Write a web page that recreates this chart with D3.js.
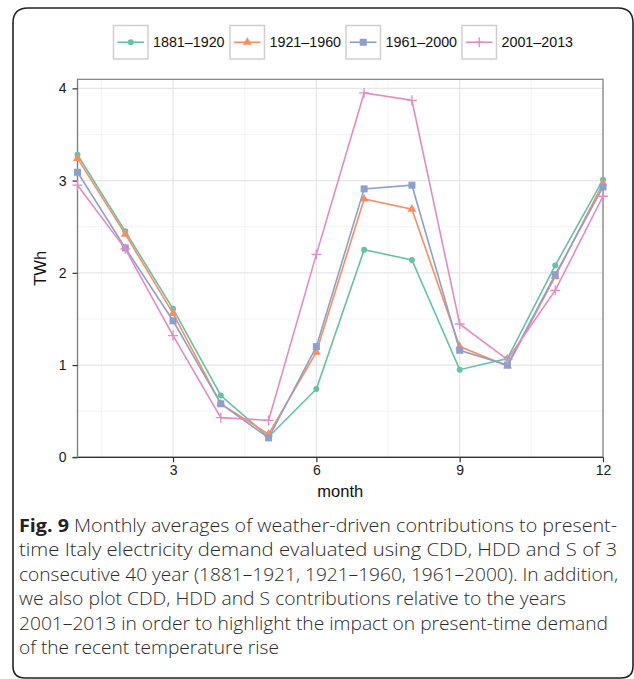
<!DOCTYPE html>
<html><head><meta charset="utf-8">
<script src="https://cdn.jsdelivr.net/npm/d3@7"></script>
<style>body{margin:0;background:#fff;} svg{display:block;}</style>
</head><body>
<svg id="c" width="634" height="679"></svg>
<script>
const months = [1,2,3,4,5,6,7,8,9,10,11,12];
const seriesNames = ["1881\u20131920","1921\u20131960","1961\u20132000","2001\u20132013"];
const s1881 = [3.28,2.45,1.61,0.67,0.22,0.74,2.25,2.14,0.95,1.07,2.08,3.01];
const s1921 = [3.24,2.42,1.56,0.58,0.25,1.14,2.80,2.69,1.20,0.99,1.96,2.97];
const s1961 = [3.09,2.27,1.48,0.58,0.21,1.20,2.91,2.95,1.16,1.00,1.98,2.93];
const s2001 = [2.95,2.26,1.32,0.43,0.40,2.20,3.95,3.87,1.445,1.06,1.81,2.83];
const xTicks = [3,6,9,12];
const yTicks = [0,1,2,3,4];
const colors = ["#66C2A5","#FC8D62","#8DA0CB","#E78AC3"];
const shapes = ["circle","triangle","square","plus"];
const captionLines = [
 "Monthly averages of weather-driven contributions to present-",
 "time Italy electricity demand evaluated using CDD, HDD and S of 3",
 "consecutive 40 year (1881\u20131921, 1921\u20131960, 1961\u20132000). In addition,",
 "we also plot CDD, HDD and S contributions relative to the years",
 "2001\u20132013 in order to highlight the impact on present-time demand",
 "of the recent temperature rise"
];
const allSeries = [s1881,s1921,s1961,s2001];

const svg = d3.select("#c");
// outer frame
svg.append("path")
  .attr("d","M13,666 L13,23 Q13,8 28,8 L618,8 Q633,8 633,23 L633,666 M13,666 Q13,678 25,678 L621,678 Q633,678 633,666")
  .attr("fill","none").attr("stroke","#222").attr("stroke-width",1.6);

const L=77.5, R=603, T=79.3, B=457.3;
const x = d3.scaleLinear().domain([1,12]).range([L,R]);
const y = d3.scaleLinear().domain([0,4.098]).range([B,T]);

const g = svg.append("g");
// minor grid
const xMinor=[1.5,4.5,7.5,10.5], yMinor=[0.5,1.5,2.5,3.5];
g.selectAll(".xm").data(xMinor).join("line").attr("x1",d=>x(d)).attr("x2",d=>x(d)).attr("y1",T).attr("y2",B).attr("stroke","#f4f4f4").attr("stroke-width",1);
g.selectAll(".ym").data(yMinor).join("line").attr("y1",d=>y(d)).attr("y2",d=>y(d)).attr("x1",L).attr("x2",R).attr("stroke","#f4f4f4").attr("stroke-width",1);
g.selectAll(".xM").data(xTicks).join("line").attr("x1",d=>x(d)).attr("x2",d=>x(d)).attr("y1",T).attr("y2",B).attr("stroke","#e6e6e6").attr("stroke-width",1.2);
g.selectAll(".yM").data(yTicks).join("line").attr("y1",d=>y(d)).attr("y2",d=>y(d)).attr("x1",L).attr("x2",R).attr("stroke","#e6e6e6").attr("stroke-width",1.2);
// panel border
g.append("rect").attr("x",L).attr("y",T).attr("width",R-L).attr("height",B-T).attr("fill","none").attr("stroke","#7f7f7f").attr("stroke-width",1.2);

// axes
const xa = svg.append("g").attr("transform",`translate(0,${B})`)
  .call(d3.axisBottom(x).tickValues(xTicks).tickFormat(d3.format("d")).tickSize(5).tickPadding(3));
const ya = svg.append("g").attr("transform",`translate(${L},0)`)
  .call(d3.axisLeft(y).tickValues(yTicks).tickFormat(d3.format("d")).tickSize(5).tickPadding(6));
[xa,ya].forEach(a=>{
  a.select(".domain").attr("stroke","#333").attr("stroke-width",1.2);
  a.selectAll(".tick line").attr("stroke","#333").attr("stroke-width",1.2);
  a.selectAll(".tick text").attr("font-family","Liberation Sans, Arial, sans-serif").attr("font-size",14).attr("fill","#1a1a1a");
});
ya.select(".domain").attr("d",`M-5,${B}H0V${T}`).attr("stroke","#7f7f7f");
xa.select(".domain").attr("d",`M${L},0H${R}`);

svg.append("text").attr("x",(L+R)/2).attr("y",497).attr("text-anchor","middle")
  .attr("font-family","Liberation Sans, Arial, sans-serif").attr("font-size",16.5).attr("fill","#111").text("month");
svg.append("text").attr("transform",`translate(46,${(T+B)/2}) rotate(-90)`).attr("text-anchor","middle")
  .attr("font-family","Liberation Sans, Arial, sans-serif").attr("font-size",16.5).attr("fill","#111").text("TWh");

function marker(sel, shape, color){
  if(shape==="circle") sel.append("circle").attr("r",3).attr("fill",color);
  else if(shape==="triangle") sel.append("path").attr("d",d3.symbol(d3.symbolTriangle,34)()).attr("fill",color);
  else if(shape==="square") sel.append("rect").attr("x",-3.5).attr("y",-3.5).attr("width",7).attr("height",7).attr("fill",color);
  else sel.append("path").attr("d","M-5,0H5M0,-5V5").attr("stroke",color).attr("stroke-width",1.3);
}

const line = d3.line().x((d,i)=>x(months[i])).y(d=>y(d));
allSeries.forEach((s,k)=>{
  svg.append("path").attr("d",line(s)).attr("fill","none").attr("stroke",colors[k]).attr("stroke-width",1.6);
  s.forEach((v,i)=>{
    const m = svg.append("g").attr("transform",`translate(${x(months[i])},${y(v)})`);
    marker(m,shapes[k],colors[k]);
  });
});

// legend
const legX=[113.5,230,346,462];
seriesNames.forEach((n,k)=>{
  const lg = svg.append("g").attr("transform",`translate(${legX[k]},25.5)`);
  lg.append("rect").attr("x",0).attr("y",0).attr("width",34.5).attr("height",33.5).attr("fill","#fff").attr("stroke","#cfcfcf").attr("stroke-width",1.5);
  lg.append("line").attr("x1",4).attr("x2",30.5).attr("y1",16.75).attr("y2",16.75).attr("stroke",colors[k]).attr("stroke-width",1.6);
  const m = lg.append("g").attr("transform","translate(17.25,16.75)");
  marker(m,shapes[k],colors[k]);
  lg.append("text").attr("x",39.5).attr("y",21.8).attr("font-family","Liberation Sans, Arial, sans-serif").attr("font-size",14.3).attr("fill","#111").text(n);
});

// caption
const cap = svg.append("g").attr("font-family","Open Sans, Noto Sans, sans-serif").attr("font-weight",300).attr("fill","#2a2a2a");
const base0 = 531.5, lh = 24.5;
captionLines.forEach((t,i)=>{
  const tx = cap.append("text").attr("x",19).attr("y",base0+i*lh).attr("font-size",17.5);
  if(i===0){
    tx.append("tspan").attr("font-weight","bold").attr("fill","#222").text("Fig. 9");
    tx.append("tspan").text(" "+t);
  } else tx.text(t);
});
const targets=[617,617,618,566,608,279];
cap.selectAll("text").each(function(d,i){
  d3.select(this).attr("textLength",targets[i]-19).attr("lengthAdjust","spacingAndGlyphs");
});
</script>
</body></html>
